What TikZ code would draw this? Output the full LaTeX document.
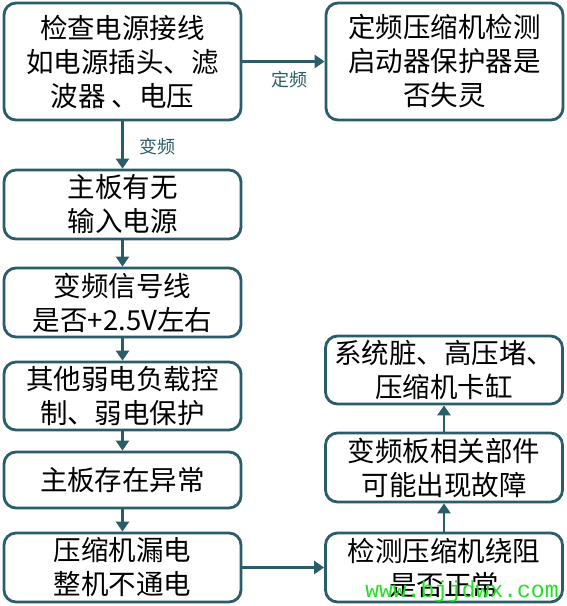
\documentclass[tikz,border=0pt]{standalone}
\usepackage{fontspec}
\setmainfont{Noto Sans CJK SC}
\newfontfamily\wmfont{Liberation Mono}
\usetikzlibrary{arrows.meta}
\definecolor{teal1}{HTML}{2A5D69}
\definecolor{wmgreen}{HTML}{22E022}
\begin{document}
\begin{tikzpicture}[x=1pt,y=-1pt,
  box/.style={draw=teal1,line width=2.8pt,rounded corners=12pt,fill=white,
    minimum width=237pt,inner sep=0pt,align=center,
    font=\fontsize{27.5}{34}\selectfont},
  conn/.style={draw=teal1,line width=2.8pt,-{Triangle[length=10pt,width=13pt]}},
  lab/.style={text=teal1,font=\fontsize{18}{20}\selectfont}]
\useasboundingbox (0,0) rectangle (566,606);
\node[box,minimum height=117pt] (b1) at (122.5,61.5) {检查电源接线\\如电源插头、滤\\波器 、电压};
\node[box,minimum height=117pt] (b2) at (444.5,61.5) {定频压缩机检测\\启动器保护器是\\否失灵};
\node[box,minimum height=69pt] (b3) at (122.5,204.5) {主板有无\\输入电源};
\node[box,minimum height=69pt] (b4) at (122.5,302.5) {变频信号线\\是否+2.5V左右};
\node[box,minimum height=68pt] (b5) at (122.5,396) {其他弱电负载控\\制、弱电保护};
\node[box,minimum height=56pt] (b6) at (122.5,480) {主板存在异常};
\node[box,minimum height=69pt] (b7) at (122.5,567.5) {压缩机漏电\\整机不通电};
\node[box,minimum height=69pt] (b8) at (444,567.5) {检测压缩机绕阻\\是否正常};
\node[box,minimum height=69pt] (b9) at (444,467.5) {变频板相关部件\\可能出现故障};
\node[box,minimum height=68pt] (b10) at (444,370) {系统脏、高压堵、\\压缩机卡缸};
\draw[conn] (b1) -- (b2);
\draw[conn] (b1) -- (b3);
\draw[conn] (b3) -- (b4);
\draw[conn] (b4) -- (b5);
\draw[conn] (b5) -- (b6);
\draw[conn] (b6) -- (b7);
\draw[conn] (b7) -- (b8);
\draw[conn] (b8) -- (b9);
\draw[conn] (b9) -- (b10);
\node[lab] (l1) at (289,80) {定频};
\node[lab] (l2) at (157,147) {变频};
\node[text=wmgreen,font=\wmfont\fontsize{23}{23}\selectfont,anchor=base] (wm) at (462,597) {www.bjjdwx.com};
\end{tikzpicture}
\end{document}
